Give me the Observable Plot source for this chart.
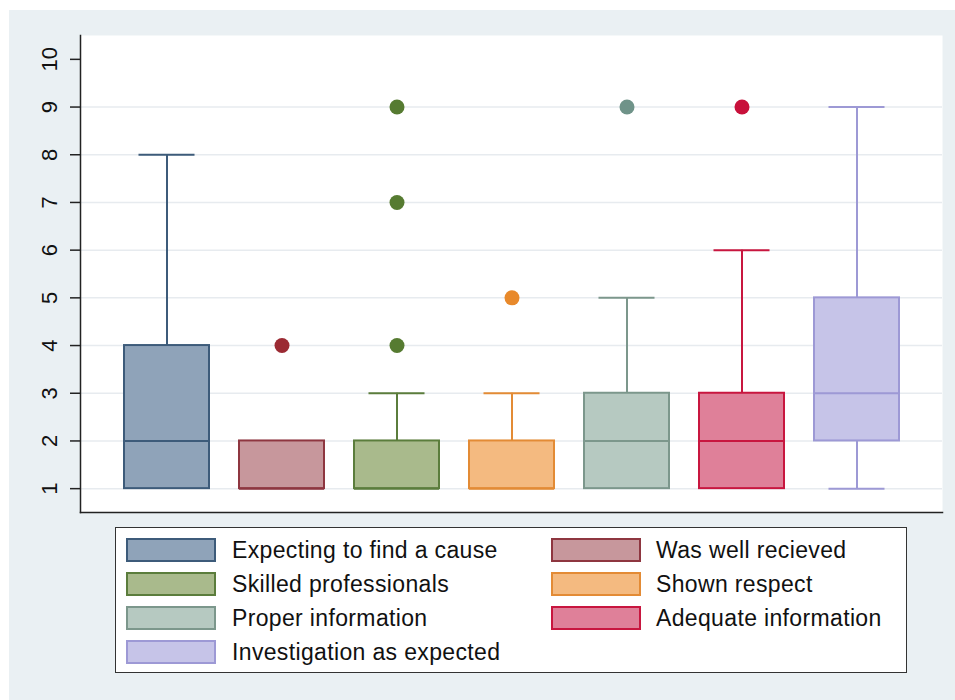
<!DOCTYPE html>
<html>
<head>
<meta charset="utf-8">
<script src="https://cdn.jsdelivr.net/npm/d3@7"></script>
<script src="https://cdn.jsdelivr.net/npm/@observablehq/plot@0.6"></script>
<style>
  html, body { margin: 0; padding: 0; background: #ffffff; }
  #page { position: relative; width: 955px; height: 700px; overflow: hidden; font-family: "Liberation Sans", Arial, Helvetica, sans-serif; }
  #bg { position: absolute; left: 9px; top: 10px; width: 946px; height: 690px; background: #eaf0f3; }
  #chart { position: absolute; left: 0; top: 0; }
  #legend { position: absolute; left: 115px; top: 527px; width: 790px; height: 144px; background: #fff; border: 1.5px solid #333; box-sizing: content-box; }
  .item { position: absolute; height: 24px; display: flex; align-items: center; }
  .sw { width: 86px; height: 20px; border: 2px solid; box-sizing: content-box; }
  .lab { position: absolute; font-size: 23px; letter-spacing: 0.35px; color: #111; white-space: nowrap; line-height: 24px; }
</style>
</head>
<body>
<div id="page">
  <div id="bg"></div>
  <div id="chart"></div>
  <div id="legend"></div>
</div>
<script>
// ---- data ----
const categories = [
  "Expecting to find a cause",
  "Was well recieved",
  "Skilled professionals",
  "Shown respect",
  "Proper information",
  "Adequate information",
  "Investigation as expected"
];
const mins    = [1, 1, 1, 1, 1, 1, 1];
const q1s     = [1, 1, 1, 1, 1, 1, 2];
const medians = [2, 1, 1, 1, 2, 2, 3];
const q3s     = [4, 2, 2, 2, 3, 3, 5];
const maxs    = [8, 2, 3, 3, 5, 6, 9];
const outlierCats   = ["Was well recieved", "Skilled professionals", "Skilled professionals", "Skilled professionals", "Shown respect", "Proper information", "Adequate information"];
const outlierValues = [4, 4, 7, 9, 5, 9, 9];
const fills   = ["#8fa3b9", "#c7979c", "#a9ba8c", "#f4ba80", "#b6c9c1", "#df8099", "#c6c4e8"];
const strokes = ["#3d5b7a", "#8e3640", "#5b7d3c", "#e38b35", "#7c978c", "#c8163f", "#9d99d5"];
const dotColors = ["#3d5b7a", "#9b2a33", "#567b31", "#e8892b", "#6f9389", "#c8113b", "#9d99d5"];
const yTicks = [1, 2, 3, 4, 5, 6, 7, 8, 9, 10];
const gridValues = [1, 2, 3, 4, 5, 6, 7, 8, 9];

// ---- build tables ----
const rows = categories.map((c, i) => ({
  cat: c, min: mins[i], q1: q1s[i], med: medians[i], q3: q3s[i], max: maxs[i],
  fill: fills[i], stroke: strokes[i]
}));
const outliers = outlierCats.map((c, i) => ({
  cat: c, value: outlierValues[i], color: dotColors[categories.indexOf(c)]
}));

const chart = Plot.plot({
  width: 955,
  height: 520,
  marginLeft: 80,
  marginRight: 13,
  marginTop: 35,
  marginBottom: 8,
  style: { background: "transparent", fontFamily: "Liberation Sans, Arial, sans-serif", color: "#111" },
  x: { type: "band", domain: categories, paddingInner: 0.263, paddingOuter: 0.3685, axis: null },
  y: { domain: [0.5, 10.5], axis: null },
  color: { type: "identity" },
  marks: [
    Plot.frame({ fill: "white", stroke: null }),
    Plot.ruleY(gridValues, { stroke: "#e7ebef", strokeWidth: 1.5 }),
    // whiskers
    Plot.ruleX(rows, { x: "cat", y1: "q3", y2: "max", stroke: "stroke", strokeWidth: 2 }),
    Plot.ruleX(rows, { x: "cat", y1: "min", y2: "q1", stroke: "stroke", strokeWidth: 2 }),
    Plot.tickY(rows.filter(d => d.max > d.q3), { x: "cat", y: "max", stroke: "stroke", strokeWidth: 2, insetLeft: 14.5, insetRight: 14.5 }),
    Plot.tickY(rows.filter(d => d.min < d.q1), { x: "cat", y: "min", stroke: "stroke", strokeWidth: 2, insetLeft: 14.5, insetRight: 14.5 }),
    // boxes
    Plot.barY(rows, { x: "cat", y1: "q1", y2: "q3", fill: "fill", stroke: "stroke", strokeWidth: 2 }),
    Plot.tickY(rows, { x: "cat", y: "med", stroke: "stroke", strokeWidth: 2 }),
    // outliers
    Plot.dot(outliers, { x: "cat", y: "value", r: 7.5, fill: "color", stroke: null }),
    // axes
    Plot.axisY({ ticks: yTicks, tickSize: 10, tickFormat: () => "", stroke: "#222", strokeWidth: 1.5 }),
    Plot.text(yTicks, { y: d => d, text: d => String(d), frameAnchor: "left", dx: -31, rotate: -90, fontSize: 22, textAnchor: "middle", lineAnchor: "middle", fill: "#111" }),
    Plot.frame({ anchor: "left", stroke: "#222", strokeWidth: 1.5 }),
    Plot.frame({ anchor: "bottom", stroke: "#222", strokeWidth: 1.5 })
  ]
});
document.getElementById("chart").appendChild(chart);

// ---- legend ----
const legend = document.getElementById("legend");
const colX = [[10, 116], [435, 540]]; // [swatch left, label left] relative to legend box
const rowY = [10, 44, 78, 112];
categories.forEach((c, i) => {
  const col = i % 2, row = Math.floor(i / 2);
  const sw = document.createElement("div");
  sw.className = "item";
  sw.style.left = colX[col][0] + "px";
  sw.style.top = rowY[row] + "px";
  const s = document.createElement("div");
  s.className = "sw";
  s.style.background = fills[i];
  s.style.borderColor = strokes[i];
  sw.appendChild(s);
  legend.appendChild(sw);
  const lab = document.createElement("div");
  lab.className = "lab";
  lab.textContent = c;
  lab.style.left = colX[col][1] + "px";
  lab.style.top = rowY[row] + "px";
  legend.appendChild(lab);
});
</script>
</body>
</html>
